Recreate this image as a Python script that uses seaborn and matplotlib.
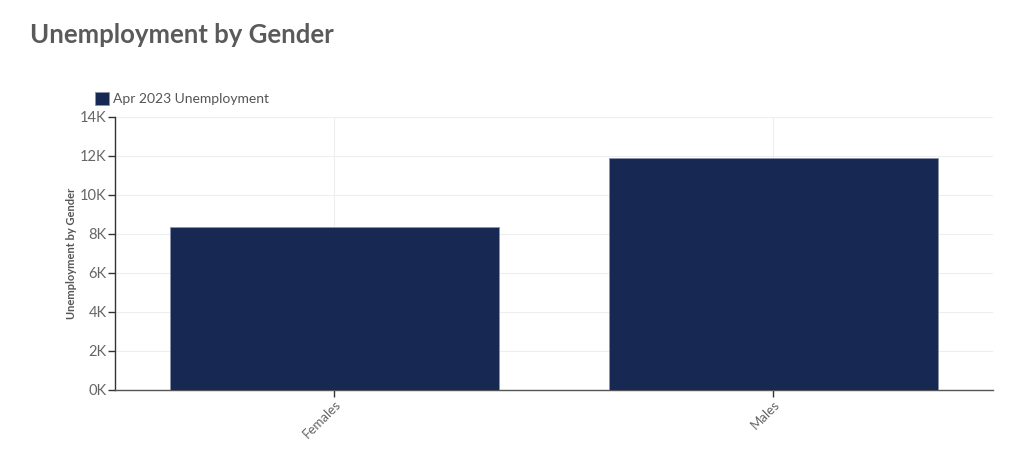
import numpy as np
import pandas as pd
import matplotlib
matplotlib.use('Agg')
import matplotlib.pyplot as plt
import seaborn as sns
from matplotlib.ticker import FuncFormatter, MultipleLocator

# dados
generos = ['Females', 'Males']
desemprego_abr_2023 = [8380, 11920]
nome_serie = 'Apr 2023 Unemployment'

df = pd.DataFrame({'Gender': generos, 'Unemployment': desemprego_abr_2023})

sns.set_theme(style='white')
plt.rcParams['font.family'] = ['Lato', 'DejaVu Sans']

cor_barra = '#172952'
cor_texto = '#666666'

fig = plt.figure(figsize=(10.24, 4.71), dpi=100)
ax = fig.add_axes([0.1123, 0.172, 0.8574, 0.5796])

sns.barplot(data=df, x='Gender', y='Unemployment', color=cor_barra, width=0.75,
            saturation=1, ax=ax, zorder=3, label=nome_serie,
            edgecolor='#8a94aa', linewidth=0.6)

ax.set_xlim(-0.5, 1.5)
ax.set_ylim(0, 14000)
ax.yaxis.set_major_locator(MultipleLocator(2000))
ax.yaxis.set_major_formatter(FuncFormatter(lambda v, p: f'{int(v/1000)}K'))

ax.grid(True, color='#eeeeee', linewidth=0.8, zorder=0)
for lado in ['top', 'right']:
    ax.spines[lado].set_visible(False)
ax.spines['left'].set_color('#333333')
ax.spines['bottom'].set_color('#555555')
ax.spines['left'].set_linewidth(1)
ax.spines['bottom'].set_linewidth(1)

ax.tick_params(axis='y', which='major', left=True, length=5, width=1, color='#333333',
               labelsize=10.5, labelcolor=cor_texto, pad=1)
ax.tick_params(axis='x', which='major', bottom=True, length=5, width=1, color='#333333',
               labelsize=9.5, labelcolor=cor_texto, pad=1)
plt.setp(ax.get_xticklabels(), rotation=45, ha='right', rotation_mode='anchor')

ax.set_xlabel('')
ax.set_ylabel('Unemployment by Gender', fontsize=8, fontweight='bold', color='#555555', labelpad=2)

leg = ax.legend(loc='lower left', bbox_to_anchor=(0.087, 0.765), bbox_transform=fig.transFigure,
                frameon=False, fontsize=10, handlelength=1.0, handleheight=1.0,
                handletextpad=0.35, borderaxespad=0)
for t in leg.get_texts():
    t.set_color('#555555')

fig.text(0.029, 0.925, 'Unemployment by Gender', fontsize=18.5, fontweight='bold',
         color='#5a5a5a', ha='left', va='center')

fig.savefig('out.png', dpi=100)
